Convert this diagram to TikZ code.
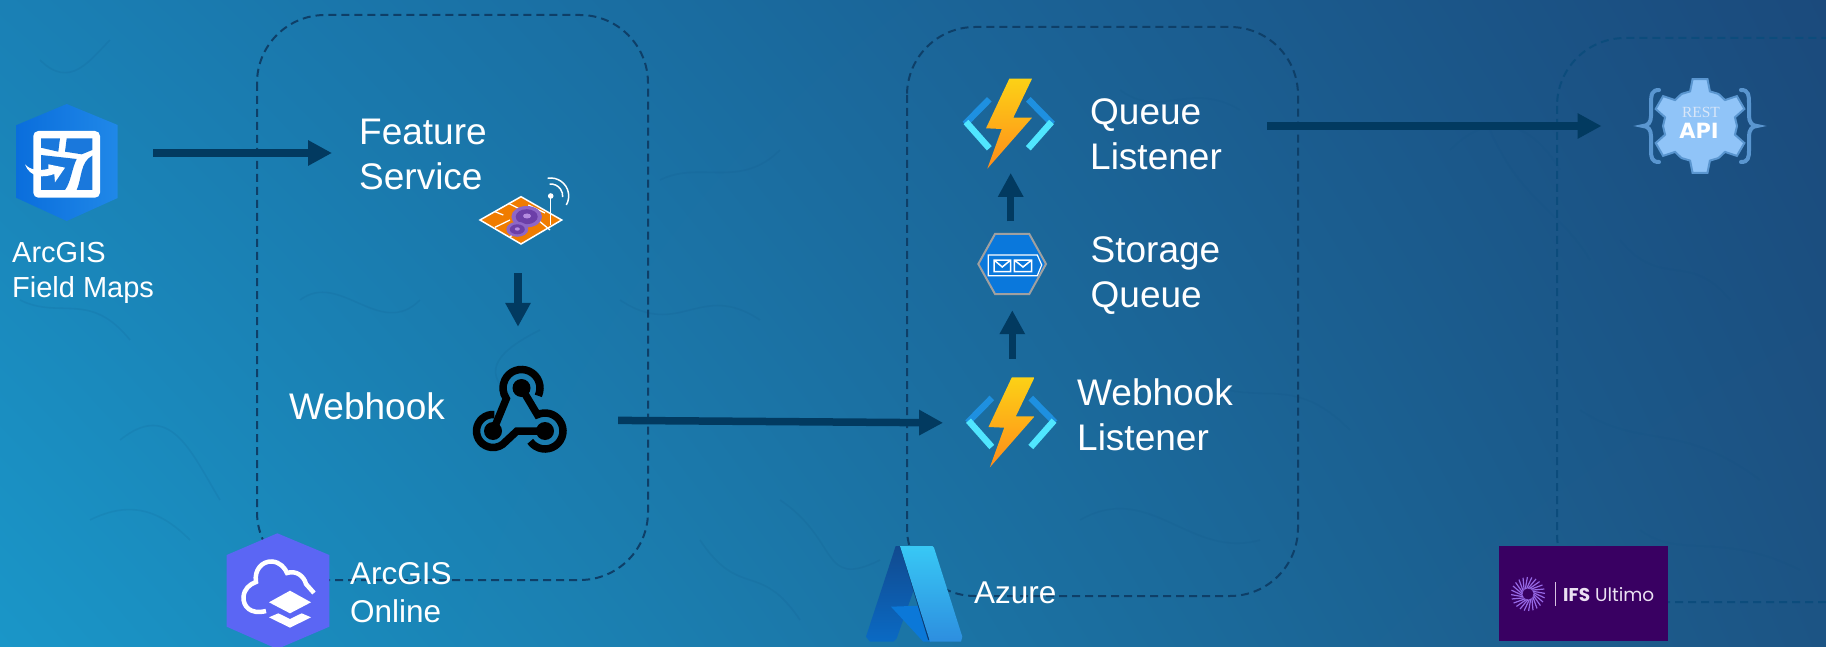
\documentclass[tikz,border=0pt]{standalone}
\usepackage{fontspec}
\setmainfont{Liberation Sans}
\newfontfamily\restfont{Liberation Serif}
\newfontfamily\apifont{DejaVu Sans}
\newfontfamily\ifsfont{Poppins}
\usetikzlibrary{arrows.meta,shadings}
\definecolor{bgTL}{HTML}{1A80B5}
\definecolor{bgBL}{HTML}{1A96C8}
\definecolor{bgTR}{HTML}{1B4A7C}
\definecolor{bgBR}{HTML}{1C5484}
\definecolor{arrowc}{HTML}{023A60}
\definecolor{dashc}{HTML}{0E3F68}
\definecolor{dashd}{HTML}{0C4C7C}
\definecolor{veinc}{HTML}{0B4F80}
\definecolor{boltT}{HTML}{FCD116}
\definecolor{boltB}{HTML}{FF8C1A}
\definecolor{brA}{HTML}{1E90E0}
\definecolor{brB}{HTML}{50E6FF}
\definecolor{qblue}{HTML}{0A78DC}
\definecolor{qgray}{HTML}{A0A0A0}
\definecolor{gearf}{HTML}{90C4F8}
\definecolor{gears}{HTML}{5A96D0}
\definecolor{resttxtc}{HTML}{D8E6F8}
\definecolor{ifsbg}{HTML}{390062}
\definecolor{ifsray}{HTML}{9669E6}
\definecolor{ifsbar}{HTML}{D7C3E1}
\definecolor{ifstxtc}{HTML}{EBE1F2}
\definecolor{fmL}{HTML}{0A6EDC}
\definecolor{fmR}{HTML}{2088E8}
\definecolor{fmPanel}{HTML}{1A78DC}
\definecolor{aoFill}{HTML}{5B66F4}
\definecolor{azDT}{HTML}{114A8F}
\definecolor{azDB}{HTML}{0A6AC4}
\definecolor{azM}{HTML}{0B78D8}
\definecolor{azS}{HTML}{0A3A70}
\definecolor{azLT}{HTML}{38C8F5}
\definecolor{azLB}{HTML}{2D8EDF}
\definecolor{fsOrange}{HTML}{F07C00}
\definecolor{fsPA}{HTML}{8E66C6}
\definecolor{fsPB}{HTML}{6C3FA8}
\definecolor{fsPC}{HTML}{B48BE0}
\tikzset{
  lbl/.style={text=white,align=left,inner sep=0pt,anchor=base west},
  bigfont/.style={font=\fontsize{37}{45}\selectfont},
  midfont/.style={font=\fontsize{31.5}{38.5}\selectfont},
  smallfont/.style={font=\fontsize{29}{35}\selectfont},
  iconbox/.style={inner sep=0pt,draw=none},
  zone/.style={line width=2pt,dash pattern=on 8pt off 5pt,rounded corners=68pt},
  flow/.style={draw=arrowc,line width=7.5pt,-{Triangle[length=24pt,width=24pt]}},
  vein/.style={draw=veinc,opacity=.11,line width=1.6pt},
}
\newcommand{\funcicon}[2]{%
  \begin{scope}[shift={(#1,#2)}]
    \shade[top color=boltT,bottom color=boltB] (1009.3,78.7) -- (1032,78.7) -- (1013.3,117.7) -- (1032,117.7) -- (987.3,168.7) -- (1001.7,129) -- (986,128.3) -- cycle;
    \draw[brA,line width=6.5pt] (989.3,99.3) -- (965,124);
    \draw[brB,line width=6.5pt] (966,122) -- (989.3,148.3);
    \draw[brA,line width=6.5pt] (1028.3,99.3) -- (1052.5,124);
    \draw[brB,line width=6.5pt] (1051.5,122) -- (1028.3,148.3);
  \end{scope}}
\begin{document}
\begin{tikzpicture}[x=1pt,y=-1pt]
\useasboundingbox (0,0) rectangle (1826,647);
\shade[upper left=bgTL,lower left=bgBL,upper right=bgTR,lower right=bgBR] (0,0) rectangle (1826,647);
% background veining
\begin{scope}
\clip (0,0) rectangle (1826,647);
\draw[vein] (40,60) .. controls (70,90) and (90,60) .. (110,40);
\draw[vein] (120,440) .. controls (170,400) and (190,450) .. (220,500);
\draw[vein] (90,520) .. controls (130,500) and (160,510) .. (190,540);
\draw[vein] (660,180) .. controls (700,160) and (740,190) .. (780,150);
\draw[vein] (620,300) .. controls (680,340) and (700,280) .. (760,320);
\draw[vein] (540,330) .. controls (500,350) and (480,370) .. (510,395);
\draw[vein] (700,540) .. controls (740,600) and (760,560) .. (800,620);
\draw[vein] (780,500) .. controls (840,540) and (820,590) .. (880,560);
\draw[vein] (1120,90) .. controls (1160,120) and (1190,80) .. (1240,110);
\draw[vein] (1080,520) .. controls (1150,480) and (1190,560) .. (1260,540);
\draw[vein] (1200,380) .. controls (1260,410) and (1290,370) .. (1350,430);
\draw[vein] (1450,150) .. controls (1490,110) and (1530,120) .. (1560,170);
\draw[vein] (1490,130) .. controls (1520,200) and (1560,210) .. (1590,260);
\draw[vein] (1620,240) .. controls (1660,290) and (1690,250) .. (1730,300);
\draw[vein] (1580,410) .. controls (1640,450) and (1680,420) .. (1760,480);
\draw[vein] (1640,530) .. controls (1680,560) and (1720,530) .. (1800,570);
\draw[vein] (300,300) .. controls (340,270) and (380,340) .. (420,300);
\draw[vein] (20,300) .. controls (60,320) and (90,290) .. (130,340);
\end{scope}
% zones
\begin{scope}
\clip (0,0) rectangle (1826,647);
\draw[zone,draw=dashc] (257,15) rectangle (648,580);
\draw[zone,draw=dashc] (907,27) rectangle (1298,596);
\draw[zone,draw=dashd] (1557,38) rectangle (1948,602);
\end{scope}
% invisible frames of the icons
\node[iconbox,minimum width=103pt,minimum height=100pt] (fieldmaps) at (67,153) {};
\node[iconbox,minimum width=84pt,minimum height=50pt] (featureicon) at (518,222) {};
\node[iconbox,minimum width=94pt,minimum height=100pt] (webhookicon) at (518,420) {};
\node[iconbox,minimum width=90pt,minimum height=90pt] (whl) at (1012.3,423) {};
\node[iconbox,minimum width=68pt,minimum height=60pt] (queue) at (1012.3,264) {};
\node[iconbox,minimum width=90pt,minimum height=90pt] (qlistener) at (1010.7,124) {};
\node[iconbox,minimum width=120pt,minimum height=100pt] (restapi) at (1700,126) {};
% field maps icon
\shade[left color=fmL,right color=fmR] (66.7,104) -- (117.7,125) -- (117.7,198) -- (66.7,221) -- (16.7,198) -- (16.7,125) -- cycle;
\fill[white,rounded corners=5pt] (33.3,131) rectangle (100,197.7);
\begin{scope}[fill=fmPanel]
\fill (41,138.3) -- (60,138.3) -- (58.3,151.7) -- (41,147.7) -- cycle;
\fill (66.7,138.3) -- (92.3,138.3) -- (92.3,150) -- (81.7,154.3) -- (65,151.7) -- cycle;
\fill (41,155) -- (76.7,159) .. controls (72,168) and (71,182) .. (65,190) -- (41,190) -- cycle;
\fill (92.3,155.7) -- (92.3,190) -- (76.7,190) .. controls (82,178) and (80,162) .. cycle;
\end{scope}
\fill[white] (25,164.3) .. controls (30,170) and (38,171) .. (48.3,169) -- (48.3,164.3) -- (65,167.7) -- (55,182.3) -- (54.3,174) .. controls (44,178) and (30,178) .. cycle;
\node[lbl,smallfont] (fmtxt) at (12,297) {ArcGIS\\Field Maps};
% feature service
\node[lbl,bigfont] (featuretxt) at (359,190) {Feature\\Service};
\filldraw[fill=fsOrange,draw=white,line width=1.5pt] (480,220) -- (521,196.7) -- (561.7,220) -- (521,244) -- cycle;
\draw[white,line width=1.3pt] (495,211.7) -- (503.3,215) (508.3,203.3) -- (518.3,208.3) (528.3,205) -- (545,213) (495,227.3) -- (510,220) (510,236.7) -- (523.3,229.3) (540,221.7) -- (550,230);
\fill[fsPA] (526.7,216.7) ellipse [x radius=15.3,y radius=10.7];
\fill[fsPB] (526.7,216.7) ellipse [x radius=11,y radius=7.5];
\fill[fsPC] (527,216) ellipse [x radius=4,y radius=2.5];
\fill[fsPA] (517.3,229.3) ellipse [x radius=11,y radius=7.5];
\fill[fsPB] (517.3,229.3) ellipse [x radius=7.5,y radius=5];
\fill[fsPC] (517.3,229) ellipse [x radius=2.5,y radius=1.7];
\draw[white,line width=1.5pt] (550.7,196) -- (550.7,225);
\fill[white] (550.7,196) circle [radius=2.8];
\begin{scope}[shift={(550.7,196)}]
\draw[white,line width=1.5pt] (-95:12) arc[start angle=-95,end angle=5,radius=12];
\draw[white,line width=1.5pt] (-100:18) arc[start angle=-100,end angle=30,radius=18];
\end{scope}
% webhook
\node[lbl,bigfont] (webhooktxt) at (289,419) {Webhook};
\begin{scope}[black,line width=7.5pt]
\draw[shift={(521.5,388)}] (25:18.5) arc[start angle=25,end angle=-215,radius=18.5] -- (-28.5,43);
\draw[shift={(493,431)}] (-85:16.5) arc[start angle=-85,end angle=-320,radius=16.5] -- (24,0) -- (52,0);
\draw[shift={(545,431)}] (145:18) arc[start angle=145,end angle=-115,radius=18] -- (-23.5,-43);
\fill (521.5,388) circle [radius=9];
\fill (493,431) circle [radius=9];
\fill (545,431) circle [radius=9];
\end{scope}
% azure functions
\funcicon{0}{0}
\funcicon{2.5}{298.7}
% storage queue
\filldraw[fill=qblue,draw=qgray,line width=2pt] (978.3,264) -- (995,234) -- (1029.3,234) -- (1046,264) -- (1029.3,294) -- (995,294) -- cycle;
\draw[white,line width=1.2pt] (988.3,255) -- (1037.3,255) -- (1041.7,265) -- (1037.3,275.7) -- (988.3,275.7) -- cycle;
\draw[white,line width=1.5pt] (994,260) rectangle (1010.7,271.7) (994,260) -- (1002.3,267) -- (1010.7,260);
\draw[white,line width=1.5pt] (1014.3,260) rectangle (1031.7,271.7) (1014.3,260) -- (1023,267) -- (1031.7,260);
\node[lbl,bigfont] (qtext) at (1090,170) {Queue\\Listener};
\node[lbl,bigfont] (stext) at (1090.5,307) {Storage\\Queue};
\node[lbl,bigfont] (wtext) at (1077,450) {Webhook\\Listener};
% rest api
\begin{scope}[shift={(1700,126)}]
\filldraw[fill=gearf,draw=gears,line width=2pt]
  (-106:36)
  \foreach \k in {0,60,...,300} {
    -- ({\k-90-16}:36) -- ({\k-90-9}:47.5) -- ({\k-90+9}:47.5) -- ({\k-90+16}:36) -- ({\k-90+30}:37)
  } -- cycle;
\end{scope}
\draw[gears,line width=4pt,line cap=round] (1659,90) .. controls (1652,90) and (1651,94) .. (1651,104) -- (1651,116) .. controls (1651,122) and (1648,126) .. (1643,126) .. controls (1648,126) and (1651,130) .. (1651,136) -- (1651,150) .. controls (1651,158) and (1652,162) .. (1659,162);
\draw[gears,line width=4pt,line cap=round] (1741,90) .. controls (1748,90) and (1749,94) .. (1749,104) -- (1749,116) .. controls (1749,122) and (1752,126) .. (1757,126) .. controls (1752,126) and (1749,130) .. (1749,136) -- (1749,150) .. controls (1749,158) and (1748,162) .. (1741,162);
\node[inner sep=0pt,anchor=base,text=resttxtc,font=\restfont\fontsize{15.5}{15.5}\selectfont] (resttxt) at (1701,117.7) {REST};
\node[inner sep=0pt,anchor=base,text=white,font=\apifont\bfseries\fontsize{21}{21}\selectfont] (apitxt) at (1699,139) {API};
% arcgis online
\fill[aoFill] (277.3,533.3) -- (329.3,555) -- (329.3,626.7) -- (277.3,649) -- (226.7,626.7) -- (226.7,555) -- cycle;
\draw[white,line width=4.5pt] (266,611) .. controls (250,615) and (243,606) .. (243.5,597) .. controls (244,589) and (250,584) .. (256,582) .. controls (254,570) and (262,561) .. (272,561.5) .. controls (280,562) and (285,568) .. (287,573) .. controls (296,570) and (304,576) .. (306,584) -- (314,593);
\fill[white] (269,602.3) -- (290,590.7) -- (311,602.3) -- (290,613.3) -- cycle;
\fill[white] (269,617.3) -- (278.3,613.3) -- (290,619) -- (301.7,613.3) -- (311,617.3) -- (290,627.7) -- cycle;
\node[lbl,midfont] (onlinetxt) at (350,622.5) {ArcGIS\\Online};
% azure logo
\shade[top color=azDT,bottom color=azDB] (895.7,546) -- (905,546) -- (914.3,588.3) -- (896.7,638.3) -- (893.3,641.7) -- (870,641.7) -- (866,636.7) -- cycle;
\fill[azM] (891,606.7) -- (920,605.7) -- (931,641.7) -- (923.3,641.7) -- cycle;
\draw[azS,line width=1.6pt] (901,547) -- (929,640);
\shade[top color=azLT,bottom color=azLB] (900,546) -- (932.3,546) -- (934,547.7) -- (962.3,636.7) -- (961,641.7) -- (930,641.7) -- cycle;
\node[lbl,midfont] (azuretxt) at (974,603.5) {Azure};
% ifs ultimo
\fill[ifsbg] (1499,546) rectangle (1668,640.7);
\foreach \a in {0,15,...,345} {
  \draw[ifsray,line width=1.2pt,shift={(1528,594)}] (\a:5.5) -- ({\a+28}:17);
}
\draw[ifsbar,line width=1pt] (1555,582) -- (1555,606);
\node[inner sep=0pt,anchor=base west,text=ifstxtc,font=\ifsfont\fontsize{18.5}{19}\selectfont] (ifstxt) at (1563,601) {\textbf{IFS} Ultimo};
% connectors
\draw[flow,shorten <=34.5pt,shorten >=27pt] (fieldmaps.east) -- (fieldmaps.east -| featuretxt.west);
\draw[flow,shorten <=26pt,shorten >=43pt] (featureicon.south) -- (webhookicon.north);
\draw[flow,shorten <=53pt,shorten >=24pt] (webhookicon.east) -- (whl.west);
\draw[flow,shorten <=19pt,shorten >=16pt] (whl.north) -- (queue.south);
\draw[flow,shorten <=12.3pt,shorten >=3.7pt] (qlistener.south |- queue.north) -- (qlistener.south);
\draw[flow,shorten <=45pt,shorten >=38.3pt] (qtext.east |- restapi.west) -- (restapi.west);
\end{tikzpicture}
\end{document}
